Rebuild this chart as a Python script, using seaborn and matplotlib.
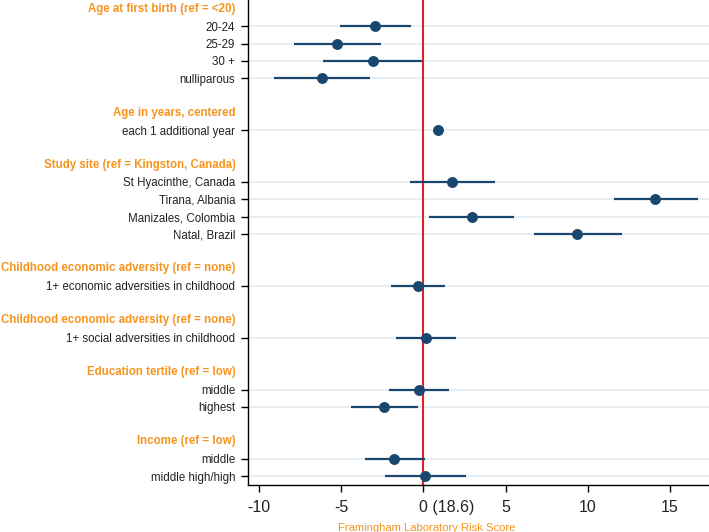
import numpy as np
import pandas as pd
import matplotlib
matplotlib.use("Agg")
import matplotlib.pyplot as plt
import matplotlib.transforms as mtransforms
import seaborn as sns

headers = ["Age at first birth (ref = <20)",
           "Age in years, centered",
           "Study site (ref = Kingston, Canada)",
           "Childhood economic adversity (ref = none)",
           "Childhood economic adversity (ref = none)",
           "Education tertile (ref = low)",
           "Income (ref = low)"]

items = [["20-24", "25-29", "30 +", "nulliparous"],
         ["each 1 additional year"],
         ["St Hyacinthe, Canada", "Tirana, Albania", "Manizales, Colombia", "Natal, Brazil"],
         ["1+ economic adversities in childhood"],
         ["1+ social adversities in childhood"],
         ["middle", "highest"],
         ["middle", "middle high/high"]]

est = [[-2.93, -5.26, -3.09, -6.18],
       [0.89],
       [1.75, 14.1, 2.93, 9.37],
       [-0.32],
       [0.16],
       [-0.29, -2.42],
       [-1.81, 0.12]]
lo = [[-5.06, -7.9, -6.1, -9.1],
      [0.75],
      [-0.79, 11.6, 0.33, 6.73],
      [-1.95],
      [-1.65],
      [-2.09, -4.41],
      [-3.58, -2.32]]
hi = [[-0.73, -2.6, -0.08, -3.23],
      [1.03],
      [4.33, 16.7, 5.5, 12.05],
      [1.34],
      [1.97],
      [1.54, -0.35],
      [0.12, 2.56]]

xticks = [-10, -5, 0, 5, 10, 15]
xticklabels = ["-10", "-5", "0 (18.6)", "5", "10", "15"]

# build rows: header, items, blank gap
rows = []
hdr_pos = []
pos = 0
for g, h in enumerate(headers):
    hdr_pos.append(pos)
    pos += 1
    for i, lab in enumerate(items[g]):
        rows.append({"label": lab, "y": pos, "est": est[g][i], "lo": lo[g][i], "hi": hi[g][i]})
        pos += 1
    pos += 1
df = pd.DataFrame(rows)

orange = "#f7941d"
navy = "#1a476f"

sns.set_style("white")
plt.rcParams['font.family'] = ['Liberation Sans', 'DejaVu Sans']

fig = plt.figure(figsize=(7.09, 5.32), dpi=100)
ax = fig.add_axes([0.3494, 0.0883, 0.6506, 0.9117])

for y in df["y"]:
    ax.axhline(y, color="#e6eef1", lw=1.3, zorder=0)
ax.axvline(0, color="#e0202a", lw=1.5, zorder=1)
ax.hlines(df["y"], df["lo"], df["hi"], color=navy, lw=1.6, zorder=2)
sns.scatterplot(data=df, x="est", y="y", ax=ax, color=navy, s=62,
                edgecolor=navy, linewidth=0, zorder=3, legend=False)

ax.set_xlim(-10.69, 17.37)
ax.set_ylim(27.52, -0.52)
ax.set_yticks(df["y"])
ax.set_yticklabels(df["label"], fontsize=8.3, color="#222222")
ax.set_xticks(xticks)
ax.set_xticklabels(xticklabels, fontsize=11.5, color="#222222")
ax.tick_params(axis="y", length=5, width=1, color="black", pad=4, left=True)
ax.tick_params(axis="x", length=5, width=1, color="black", pad=6, bottom=True)

# "0 (18.6)": keep the 0 over its tick
zlab = ax.get_xticklabels()[2]
zlab.set_ha("left")
zlab.set_transform(zlab.get_transform() + mtransforms.ScaledTranslation(-4.5 / 100, 0, fig.dpi_scale_trans))

for h, p in zip(headers, hdr_pos):
    ax.text(-0.026, p, h, transform=ax.get_yaxis_transform(), ha="right", va="center",
            fontsize=8.3, fontweight="bold", color=orange)

ax.set_xlabel("Framingham Laboratory Risk Score", fontsize=8.1, color=orange, labelpad=4)
ax.xaxis.set_label_coords(0.389, -0.078)
ax.set_ylabel("")
for s in ["top", "right"]:
    ax.spines[s].set_visible(False)
for s in ["left", "bottom"]:
    ax.spines[s].set_color("black")
    ax.spines[s].set_linewidth(1)

fig.savefig("out.png", dpi=100)
